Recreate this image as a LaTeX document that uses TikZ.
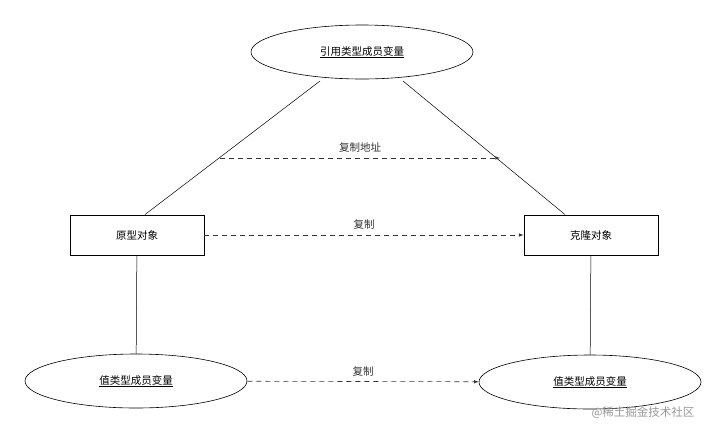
\documentclass[tikz,border=0pt]{standalone}
\usepackage{fontspec}
\setmainfont{Noto Sans CJK SC}
\usetikzlibrary{shapes.geometric}
\tikzstyle{member} = [ellipse, draw=black, line width=.6pt, fill=white, minimum width=222pt, minimum height=54pt, inner sep=0pt, font=\fontsize{10.5}{12}\selectfont]
\tikzstyle{object} = [rectangle, draw=black, line width=.9pt, fill=white, minimum width=134pt, minimum height=40pt, inner sep=0pt, font=\fontsize{10.5}{12}\selectfont]
\tikzstyle{edge} = [draw, line width=.5pt, -, black]
\tikzstyle{copyarrow} = [draw, line width=.6pt, dash pattern=on 5pt off 4pt, -latex, black!80]
\tikzstyle{tag} = [font=\fontsize{10.5}{12}\selectfont, inner sep=1pt]

\begin{document}
\begin{tikzpicture}[x=1pt, y=-1pt]
	\useasboundingbox[fill=white] (0,0) rectangle (727,437);

	\node[member] (ref) at (362,52) {\underline{引用类型成员变量}};
	\node[object] (proto) at (137,235) {原型对象};
	\node[object] (clone) at (591,235) {克隆对象};
	\node[member] (val_1) at (136,381) {\underline{值类型成员变量}};
	\node[member] (val_2) at (590,382) {\underline{值类型成员变量}};

	\coordinate (ref_l) at (320,81);
	\coordinate (ref_r) at (403,81);
	\draw[edge] (ref_l) -- ([xshift=8pt]proto.north);
	\draw[edge] (ref_r) -- ([xshift=-26pt]clone.north);
	\draw[edge] (proto) -- (val_1);
	\draw[edge] (clone) -- (val_2);

	% copy arrows
	\coordinate (addr_s) at (220,158);
	\coordinate (addr_e) at (500,158);
	\draw[copyarrow] (addr_s) -- node[tag, above=4pt] (addr_tag) {复制地址} (addr_e);
	\draw[copyarrow] (proto) -- node[tag, above=4pt] (copy_1) {复制} (clone);
	\draw[copyarrow] (val_1) -- node[tag, above=4pt] (copy_2) {复制} (val_2);

	\node[font=\fontsize{11.5}{13}\selectfont, text=black!40] (mark) at (643,413) {@稀土掘金技术社区};
\end{tikzpicture}
\end{document}
